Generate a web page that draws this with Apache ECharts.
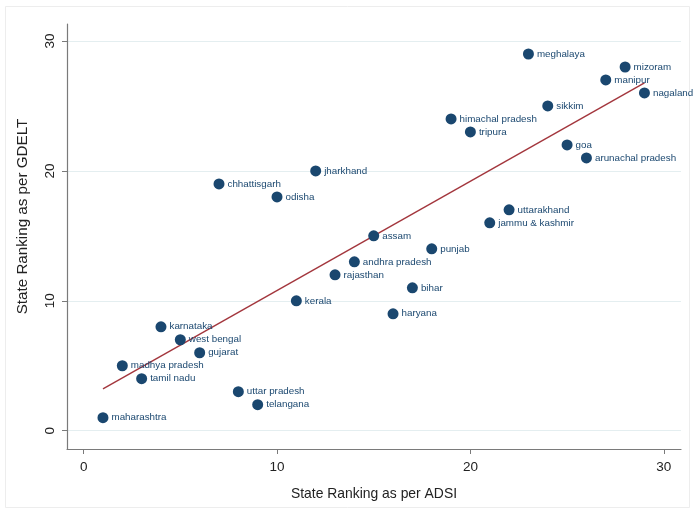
<!DOCTYPE html>
<html>
<head>
<meta charset="utf-8">
<title>GDELT vs ADSI ranking</title>
<script src="https://cdn.jsdelivr.net/npm/echarts@6/dist/echarts.min.js"></script>
<style>
  html, body { margin: 0; padding: 0; background: #fff; }
  #main { width: 694px; height: 510px; }
</style>
</head>
<body>
<div id="main"></div>
<script>
// data
var states = ['maharashtra', 'madhya pradesh', 'tamil nadu', 'karnataka', 'west bengal', 'gujarat',
  'chhattisgarh', 'uttar pradesh', 'telangana', 'odisha', 'kerala', 'jharkhand', 'rajasthan',
  'andhra pradesh', 'assam', 'haryana', 'bihar', 'punjab', 'himachal pradesh', 'tripura',
  'jammu & kashmir', 'uttarakhand', 'meghalaya', 'sikkim', 'goa', 'arunachal pradesh',
  'manipur', 'mizoram', 'nagaland'];
var adsiRank = [1, 2, 3, 4, 5, 6, 7, 8, 9, 10, 11, 12, 13, 14, 15, 16, 17, 18, 19, 20,
  21, 22, 23, 24, 25, 26, 27, 28, 29];
var gdeltRank = [1, 5, 4, 8, 7, 6, 19, 3, 2, 18, 10, 20, 12, 13, 15, 9, 11, 14, 24, 23,
  16, 17, 29, 25, 22, 21, 27, 28, 26];
var tickValues = [0, 10, 20, 30];

// linear fit through the points
var n = adsiRank.length, mx = 0, my = 0;
for (var i = 0; i < n; i++) { mx += adsiRank[i]; my += gdeltRank[i]; }
mx /= n; my /= n;
var sxy = 0, sxx = 0;
for (var i = 0; i < n; i++) {
  sxy += (adsiRank[i] - mx) * (gdeltRank[i] - my);
  sxx += (adsiRank[i] - mx) * (adsiRank[i] - mx);
}
var slope = sxy / sxx, icpt = my - slope * mx;
var x0 = Math.min.apply(null, adsiRank), x1 = Math.max.apply(null, adsiRank);
var fitLine = [[x0, icpt + slope * x0], [x1, icpt + slope * x1]];

var points = [];
for (var i = 0; i < n; i++) points.push({ value: [adsiRank[i], gdeltRank[i]], name: states[i] });

var navy = '#1a476f';
var font = 'Liberation Sans, Arial, sans-serif';

var chart = echarts.init(document.getElementById('main'));
chart.setOption({
  animation: false,
  backgroundColor: '#fff',
  graphic: [{
    type: 'rect', left: 5, top: 6, z: -10,
    shape: { width: 684, height: 501 },
    style: { fill: '#fff', stroke: '#ededed', lineWidth: 1 }
  }],
  grid: { left: 67, right: 13, top: 24, bottom: 61, containLabel: false, outerBoundsMode: 'none' },
  xAxis: {
    type: 'value', min: -0.86, max: 30.89,
    name: 'State Ranking as per ADSI', nameLocation: 'middle', nameGap: 38,
    nameTextStyle: { fontSize: 13.9, color: '#222', fontFamily: font },
    axisLine: { show: true, onZero: false, lineStyle: { color: '#7a7a7a', width: 1.2 } },
    axisTick: { show: true, length: 5, customValues: tickValues, lineStyle: { color: '#7a7a7a' } },
    axisLabel: { customValues: tickValues, fontSize: 13.5, color: '#222', margin: 11, fontFamily: font },
    splitLine: { show: false }
  },
  yAxis: {
    type: 'value', min: -1.41, max: 31.31,
    name: 'State Ranking as per GDELT', nameLocation: 'middle', nameGap: 37,
    nameTextStyle: { fontSize: 15.2, color: '#222', fontFamily: font, padding: [0, 0, 0, 40] },
    axisLine: { show: true, onZero: false, lineStyle: { color: '#7a7a7a', width: 1.2 } },
    axisTick: { show: true, length: 5, customValues: tickValues, lineStyle: { color: '#7a7a7a' } },
    axisLabel: { customValues: tickValues, rotate: 90, fontSize: 13.5, color: '#222', margin: 10, fontFamily: font },
    splitLine: { show: false }
  },
  series: [
    {
      type: 'line', data: [], z: 0, silent: true,
      markLine: {
        z: 0, silent: true, symbol: 'none', label: { show: false },
        emphasis: { disabled: true },
        lineStyle: { color: '#e4eef0', type: 'solid', width: 1, opacity: 1 },
        data: tickValues.map(function (v) { return { yAxis: v }; })
      }
    },
    {
      type: 'line', data: fitLine, z: 2, symbol: 'none', silent: true,
      lineStyle: { color: '#a3363d', width: 1.4 }
    },
    {
      type: 'scatter', data: points, z: 3, symbolSize: 11,
      itemStyle: { color: navy, opacity: 1 },
      label: {
        show: true, position: 'right', distance: 3,
        formatter: function (p) { return p.name; },
        color: navy, fontSize: 9.8, fontFamily: font
      }
    }
  ]
});
</script>
</body>
</html>
